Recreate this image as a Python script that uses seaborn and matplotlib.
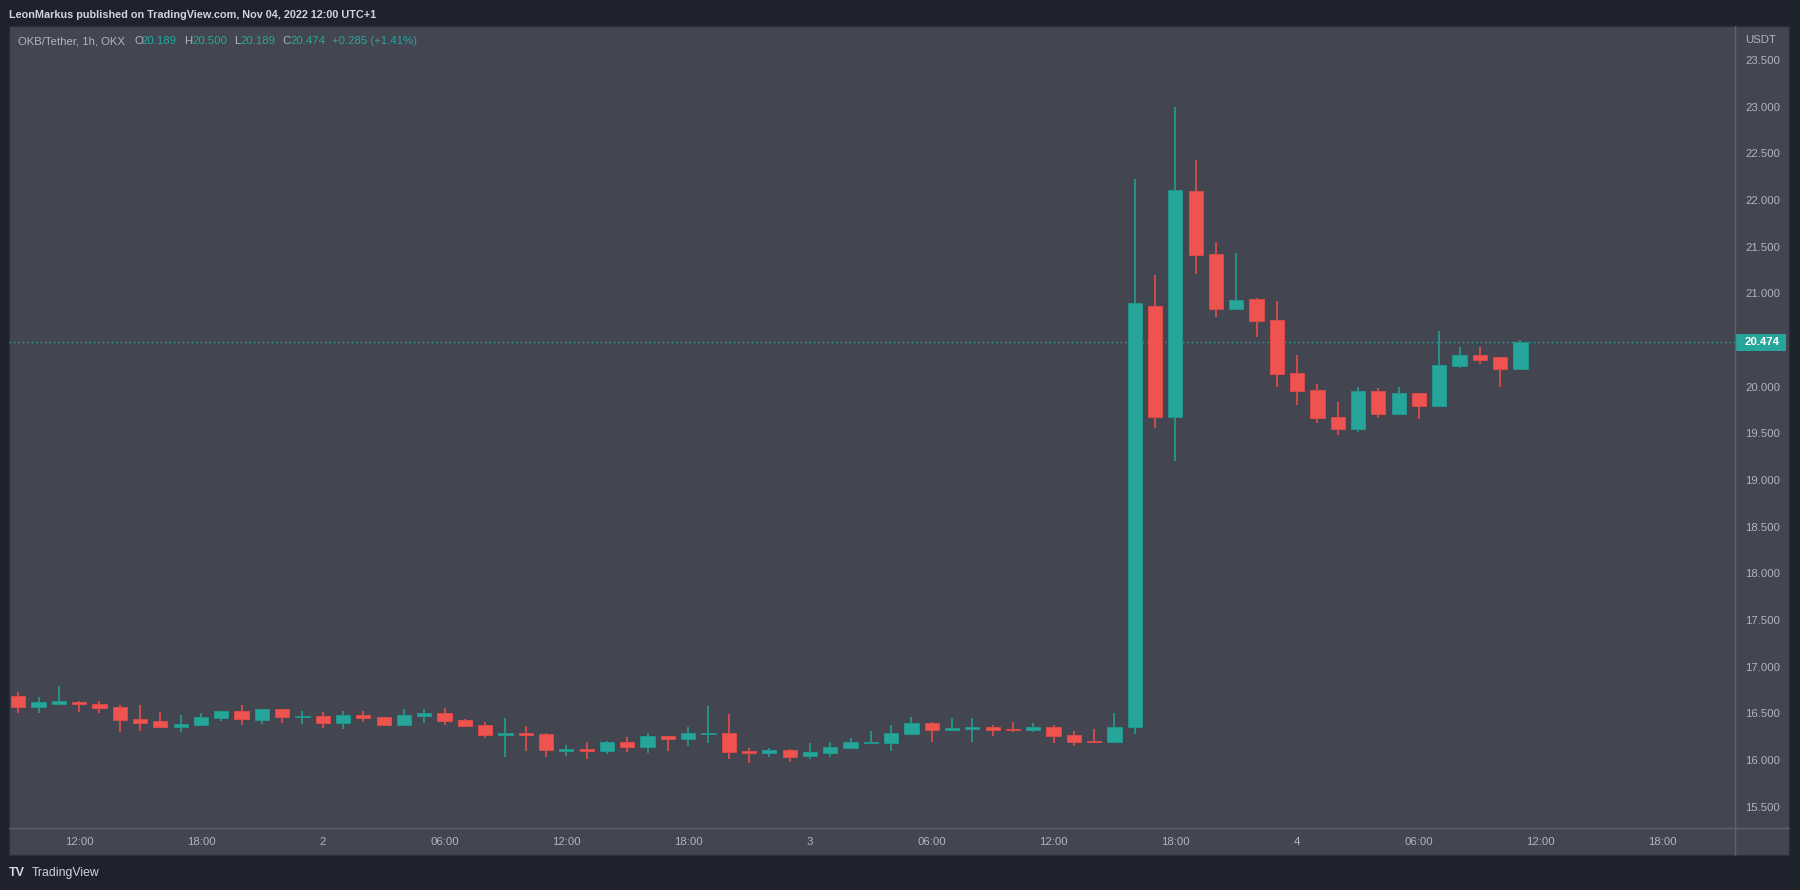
import numpy as np
import pandas as pd
import matplotlib
matplotlib.use('Agg')
import matplotlib.pyplot as plt
import matplotlib.dates as mdates
import matplotlib.transforms as mtransforms
from matplotlib.patches import Rectangle
from matplotlib.lines import Line2D
import seaborn as sns

# OKB/Tether 1h candles, Nov 1 09:00 -> Nov 4 11:00
opens = [16.689, 16.564, 16.603, 16.625, 16.603, 16.564, 16.435, 16.417, 16.357, 16.375,
         16.450, 16.521, 16.428, 16.542, 16.460, 16.471, 16.396, 16.482, 16.457, 16.375,
         16.471, 16.500, 16.428, 16.375, 16.271, 16.289, 16.278, 16.100, 16.114, 16.092,
         16.192, 16.142, 16.257, 16.228, 16.282, 16.289, 16.100, 16.071, 16.110, 16.039,
         16.078, 16.132, 16.185, 16.185, 16.282, 16.396, 16.325, 16.335, 16.353, 16.332,
         16.325, 16.353, 16.267, 16.207, 16.196, 16.348, 20.861, 19.679, 22.092, 21.417,
         20.835, 20.937, 20.714, 20.146, 19.960, 19.674, 19.549, 19.949, 19.710, 19.928,
         19.792, 20.224, 20.339, 20.317, 20.189]
highs = [16.728, 16.678, 16.792, 16.635, 16.628, 16.585, 16.585, 16.514, 16.478, 16.500,
         16.521, 16.585, 16.550, 16.550, 16.521, 16.514, 16.521, 16.521, 16.457, 16.542,
         16.542, 16.553, 16.435, 16.407, 16.446, 16.364, 16.292, 16.164, 16.192, 16.200,
         16.246, 16.285, 16.257, 16.353, 16.582, 16.489, 16.128, 16.128, 16.121, 16.182,
         16.196, 16.235, 16.310, 16.375, 16.460, 16.403, 16.450, 16.450, 16.375, 16.407,
         16.396, 16.375, 16.310, 16.332, 16.503, 22.221, 21.199, 22.998, 22.429, 21.550,
         21.434, 20.950, 20.917, 20.339, 20.024, 19.835, 19.992, 19.985, 19.992, 19.928,
         20.599, 20.421, 20.424, 20.317, 20.500]
lows = [16.500, 16.500, 16.596, 16.510, 16.500, 16.303, 16.314, 16.342, 16.303, 16.364,
        16.414, 16.375, 16.385, 16.396, 16.385, 16.342, 16.332, 16.407, 16.375, 16.375,
        16.396, 16.375, 16.364, 16.235, 16.028, 16.100, 16.028, 16.046, 16.014, 16.067,
        16.089, 16.078, 16.100, 16.153, 16.185, 16.014, 15.964, 16.035, 15.975, 16.014,
        16.028, 16.132, 16.171, 16.100, 16.282, 16.196, 16.325, 16.196, 16.260, 16.303,
        16.303, 16.185, 16.153, 16.185, 16.196, 16.281, 19.560, 19.204, 21.203, 20.741,
        20.835, 20.537, 20.000, 19.803, 19.614, 19.485, 19.517, 19.667, 19.710, 19.657,
        19.792, 20.203, 20.246, 20.000, 20.189]
closes = [16.564, 16.617, 16.628, 16.596, 16.553, 16.428, 16.396, 16.353, 16.385, 16.457,
          16.521, 16.439, 16.542, 16.460, 16.471, 16.396, 16.482, 16.450, 16.375, 16.482,
          16.500, 16.417, 16.364, 16.271, 16.289, 16.271, 16.103, 16.114, 16.092, 16.192,
          16.142, 16.257, 16.228, 16.289, 16.292, 16.089, 16.071, 16.110, 16.035, 16.089,
          16.142, 16.192, 16.196, 16.289, 16.396, 16.325, 16.342, 16.353, 16.325, 16.321,
          16.353, 16.260, 16.196, 16.196, 16.353, 20.892, 19.679, 22.105, 21.412, 20.835,
          20.928, 20.706, 20.139, 19.949, 19.667, 19.549, 19.949, 19.710, 19.928, 19.792,
          20.232, 20.339, 20.285, 20.189, 20.474]

tick_labels = ['12:00', '18:00', '2', '06:00', '12:00', '18:00', '3',
               '06:00', '12:00', '18:00', '4', '06:00', '12:00', '18:00']
price_ticks = [15.5, 16.0, 16.5, 17.0, 17.5, 18.0, 18.5, 19.0, 19.5,
               20.0, 20.5, 21.0, 21.5, 22.0, 22.5, 23.0, 23.5]

df = pd.DataFrame({'open': opens, 'high': highs, 'low': lows, 'close': closes})
df['time'] = pd.date_range('2022-11-01 09:00', periods=len(df), freq='h')
df['up'] = df['close'] >= df['open']
tick_times = pd.date_range('2022-11-01 12:00', periods=len(tick_labels), freq='6h')

# colours
outer = '#1e222d'
bg = '#434651'
sep = '#5d606b'
txt = '#b2b5be'
green = '#26a69a'
red = '#ef5350'

sns.set_theme(style='dark', rc={'axes.facecolor': bg, 'figure.facecolor': outer})
plt.rcParams['font.family'] = ['Liberation Sans', 'DejaVu Sans']

W, H = 1800, 890
fig = plt.figure(figsize=(18, 8.9), dpi=100, facecolor=outer)

# chart panel behind everything
fig.add_artist(Rectangle((9.3 / W, 1 - 855 / H), (1789.3 - 9.3) / W, (855 - 26) / H,
                         transform=fig.transFigure, fc=bg, ec='#2a2e39', lw=1, zorder=0))

ax = fig.add_axes([9.3 / W, 1 - 828.3 / H, (1735 - 9.3) / W, (828.3 - 26) / H])
ax.set_facecolor(bg)
ax.patch.set_alpha(0)

x = mdates.date2num(df['time'])
body_c = np.where(df['up'], green, red)
edge_c = np.where(df['up'], '#22968b', '#d94a48')
wick_c = np.where(df['up'], '#23978d', '#d94c4a')

ax.vlines(x, df['low'], df['high'], colors=wick_c, lw=1.3, zorder=2)
body_lo = np.minimum(df['open'], df['close'])
body_h = np.maximum((df['close'] - df['open']).abs(), 0.008)
ax.bar(x, body_h, bottom=body_lo, width=0.7 / 24, color=body_c,
       edgecolor=edge_c, linewidth=0.7, zorder=3)

last = df.iloc[-1]
prev_close = df['close'].iloc[-2]
ax.axhline(last['close'], color=green, lw=1, ls=(0, (1, 2.2)), zorder=1)

t0 = x[0]
ax.set_xlim(t0 - 0.443 / 24, t0 + 84.57 / 24)
ax.set_ylim(15.268, 23.864)

ax.set_xticks(mdates.date2num(tick_times))
ax.set_xticklabels(tick_labels)
ax.set_yticks(price_ticks)
ax.set_yticklabels([f'{v:.3f}' for v in price_ticks])
ax.yaxis.tick_right()
ax.tick_params(axis='y', length=0, pad=7.2, labelsize=8.2, colors=txt)
ax.tick_params(axis='x', length=0, pad=6.3, labelsize=8.2, colors=txt)
ax.grid(False)
for s in ax.spines.values():
    s.set_visible(False)

# axis separators
fig.add_artist(Line2D([1735 / W, 1735 / W], [1 - 26 / H, 1 - 855 / H], color=sep, lw=1))
fig.add_artist(Line2D([9.3 / W, 1789.3 / W], [1 - 828.3 / H, 1 - 828.3 / H], color=sep, lw=1))

# last price box on the price scale
blend = mtransforms.blended_transform_factory(fig.transFigure, ax.transData)
ax.add_patch(Rectangle((1735.5 / W, last['close'] - 0.092), 50.5 / W, 0.184,
                       transform=blend, fc=green, ec='none', clip_on=False, zorder=5))
ax.text(1745 / W, last['close'], f"{last['close']:.3f}", transform=blend, ha='left',
        va='center', color='white', weight='bold', fontsize=8.2, zorder=6, clip_on=False)

fig.text(1745 / W, 1 - 40 / H, 'USDT', color=txt, fontsize=8.2, va='center')

# header + legend
fig.text(9 / W, 1 - 15 / H, 'LeonMarkus published on TradingView.com, Nov 04, 2022 12:00 UTC+1',
         color='#d1d4dc', fontsize=7.8, weight='bold', va='center')

chg = last['close'] - prev_close
pieces = [(17.6, 'OKB/Tether, 1h, OKX', txt),
          (134.5, 'O', txt), (141.6, f"{last['open']:.3f}", green),
          (184.5, 'H', txt), (192, f"{last['high']:.3f}", green),
          (234, 'L', txt), (240.5, f"{last['low']:.3f}", green),
          (282, 'C', txt), (290, f"{last['close']:.3f}", green),
          (332, f"{chg:+.3f} ({chg / prev_close * 100:+.2f}%)", green)]
for px, s, c in pieces:
    fig.text(px / W, 1 - 41.5 / H, s, color=c, fontsize=8.2, va='center')

# footer logo
fig.text(9 / W, 1 - 872.7 / H, 'TV', color='#d1d4dc', fontsize=9, weight='bold', va='center')
fig.text(32 / W, 1 - 872.7 / H, 'TradingView', color='#d1d4dc', fontsize=8.8, va='center')

fig.savefig('out.png', dpi=100, facecolor=outer)
